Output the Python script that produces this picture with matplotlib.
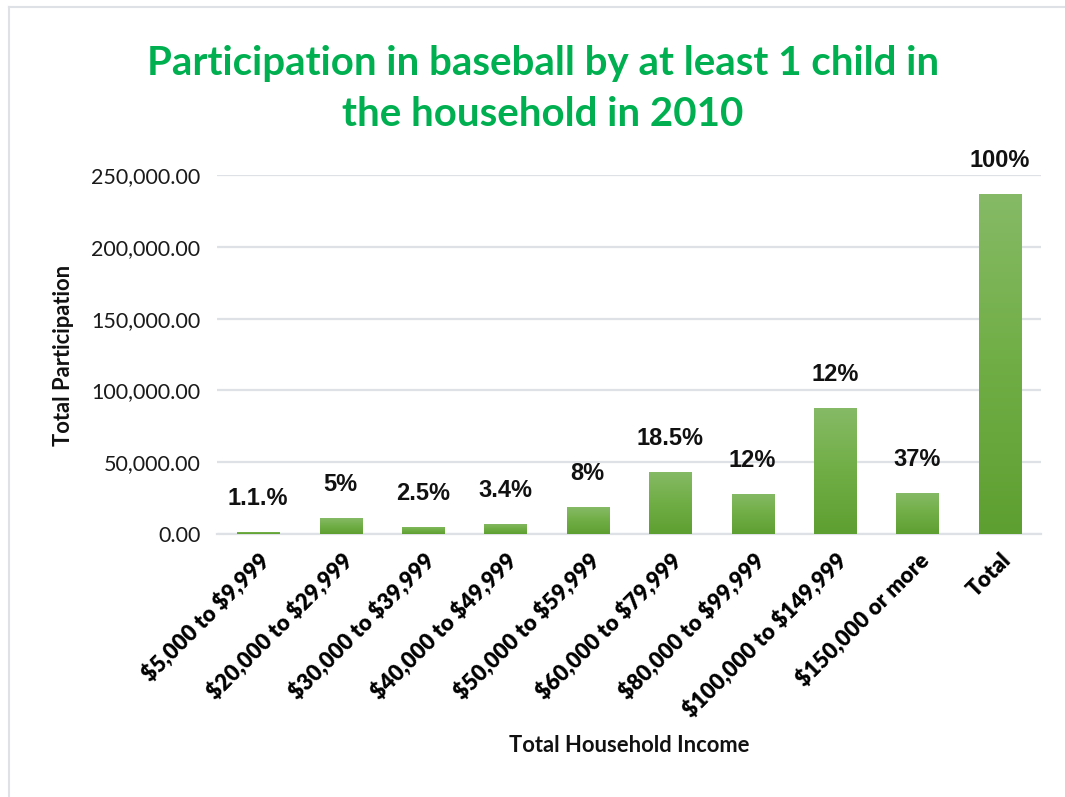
import matplotlib
matplotlib.use("Agg")
import matplotlib.pyplot as plt
import numpy as np
from matplotlib.colors import LinearSegmentedColormap
from matplotlib.ticker import FuncFormatter

plt.rcParams["text.parse_math"] = False

categories = ["$5,000 to $9,999", "$20,000 to $29,999", "$30,000 to $39,999",
              "$40,000 to $49,999", "$50,000 to $59,999", "$60,000 to $79,999",
              "$80,000 to $99,999", "$100,000 to $149,999", "$150,000 or more", "Total"]
participation = [1400, 11100, 4900, 7000, 18800, 43200, 27900, 87700, 28500, 236700]
share_labels = ["1.1.%", "5%", "2.5%", "3.4%", "8%", "18.5%", "12%", "12%", "37%", "100%"]
y_ticks = [0, 50000, 100000, 150000, 200000, 250000]

W, H = 1065, 797
fig = plt.figure(figsize=(W / 100, H / 100), dpi=100)
ax = fig.add_axes([217 / W, 1 - 534 / H, (1041 - 217) / W, (534 - 175) / H])

x = np.arange(len(categories))
bars = ax.bar(x, participation, width=0.51, color="none", edgecolor="none", zorder=3)

# vertical green gradient inside each bar
grad = LinearSegmentedColormap.from_list("g", ["#5E9F31", "#70AE45", "#86BA66"])
gimg = np.linspace(0, 1, 256).reshape(-1, 1)
for b in bars:
    x0, w, h = b.get_x(), b.get_width(), b.get_height()
    im = ax.imshow(gimg, cmap=grad, origin="lower", aspect="auto",
                   extent=[x0, x0 + w, 0, h], zorder=3)
    im.set_clip_path(b)

ax.set_xlim(-0.5, len(categories) - 0.5)
ax.set_ylim(0, 250000)
ax.set_yticks(y_ticks)
ax.yaxis.set_major_formatter(FuncFormatter(lambda v, p: f"{v:,.2f}"))
ax.grid(axis="y", color="#DEE2E7", linewidth=1.6, zorder=0)
ax.set_axisbelow(True)
for s in ["top", "right", "left"]:
    ax.spines[s].set_visible(False)
ax.spines["bottom"].set_color("#DEE2E7")
ax.spines["bottom"].set_linewidth(1.6)
ax.tick_params(axis="both", length=0)
ax.tick_params(axis="y", pad=12)
for t in ax.get_yticklabels():
    t.set_fontfamily("Lato")
    t.set_fontsize(15.5)
    t.set_color("#1a1a1a")

ax.set_xticks(x)
ax.set_xticklabels(categories, rotation=45, ha="right", rotation_mode="anchor",
                   fontfamily="Lato", fontweight="heavy", fontsize=15.8)
ax.tick_params(axis="x", pad=11)

for b, lab in zip(bars, share_labels):
    ax.annotate(lab, (b.get_x() + b.get_width() / 2, b.get_height()),
                xytext=(0, 24), textcoords="offset points", ha="center", va="center",
                fontfamily="Liberation Sans", fontweight="bold", fontsize=17,
                color="#111111")

fig.text(543 / W, 1 - 89 / H,
         "Participation in baseball by at least 1 child in\nthe household in 2010",
         ha="center", va="center", fontfamily="Lato", fontweight="bold",
         fontsize=29, color="#00B050", linespacing=1.5)
fig.text(63 / W, 1 - 355 / H, "Total Participation", rotation=90, ha="center",
         va="center", fontfamily="Lato", fontweight="bold", fontsize=15.8, color="#111111")
fig.text(629 / W, 1 - 746 / H, "Total Household Income", ha="center", va="center",
         fontfamily="Lato", fontweight="bold", fontsize=15.8, color="#111111")

# light frame edges around the chart area
fig.add_artist(plt.Line2D([9 / W, 9 / W], [0, 1 - 7 / H], color="#DEE2E7",
                          linewidth=1.5, transform=fig.transFigure))
fig.add_artist(plt.Line2D([9 / W, 1], [1 - 7 / H, 1 - 7 / H], color="#DEE2E7",
                          linewidth=1.5, transform=fig.transFigure))

fig.savefig("out.png", dpi=100, facecolor="white")
